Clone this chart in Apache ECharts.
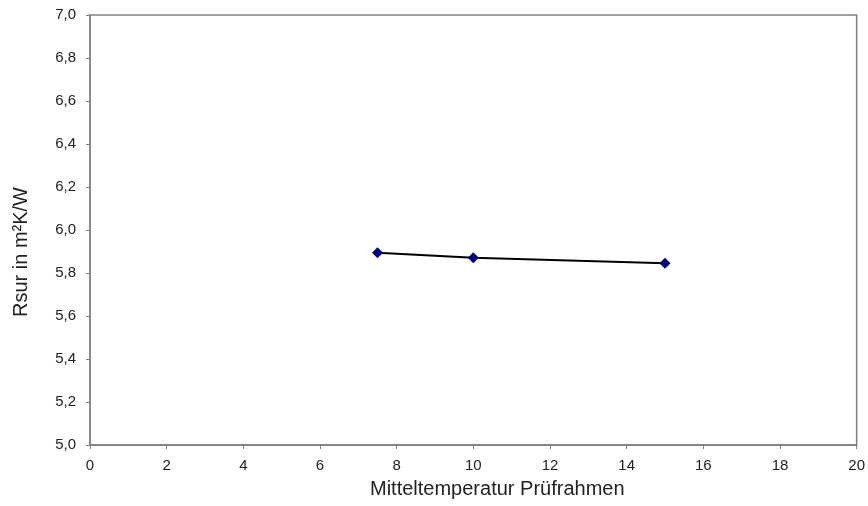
<!DOCTYPE html>
<html><head><meta charset="utf-8">
<script src="https://cdn.jsdelivr.net/npm/echarts@6/dist/echarts.min.js"></script>
<style>html,body{margin:0;padding:0;background:#fff}#c{width:868px;height:506px}</style>
</head><body><div id="c"></div>
<script>
const xValues = [7.5, 10, 15];
const yValues = [5.894, 5.871, 5.845];
const xTitle = 'Mitteltemperatur Prüfrahmen';
const yTitle = 'Rsur in m²K/W';

const chart = echarts.init(document.getElementById('c'), null, {renderer: 'canvas'});
const fnt = 'Liberation Sans, Arial, sans-serif';
chart.setOption({
  animation: false,
  grid: {left: 90, right: 11, top: 15, bottom: 61, show: true, borderColor: '#808080', borderWidth: 1.5, backgroundColor: '#fff'},
  graphic: [
    {type: 'text', left: 370, top: 479, style: {text: xTitle, font: '20px ' + fnt, fill: '#222'}},
    {type: 'text', x: 11, y: 252, rotation: Math.PI / 2,
      style: {text: yTitle, font: '20px ' + fnt, fill: '#222', align: 'center', verticalAlign: 'top'}}
  ],
  xAxis: {
    type: 'value', min: 0, max: 20, interval: 2,
    axisLine: {show: true, lineStyle: {color: '#808080', width: 1.5}},
    axisTick: {show: true, length: 4, lineStyle: {color: '#808080'}},
    axisLabel: {fontFamily: fnt, fontSize: 15, color: '#222', margin: 13},
    splitLine: {show: false}
  },
  yAxis: {
    type: 'value', min: 5, max: 7, interval: 0.2,
    axisLine: {show: true, lineStyle: {color: '#808080', width: 1.5}},
    axisTick: {show: true, length: 4, lineStyle: {color: '#808080'}},
    axisLabel: {fontFamily: fnt, fontSize: 15, color: '#222', margin: 14,
      formatter: v => v.toFixed(1).replace('.', ',')},
    splitLine: {show: false}
  },
  series: [{
    type: 'line',
    data: xValues.map((x, i) => [x, yValues[i]]),
    symbol: 'diamond', symbolSize: 11,
    itemStyle: {color: '#000080'},
    lineStyle: {color: '#000000', width: 2}
  }]
});
</script></body></html>
